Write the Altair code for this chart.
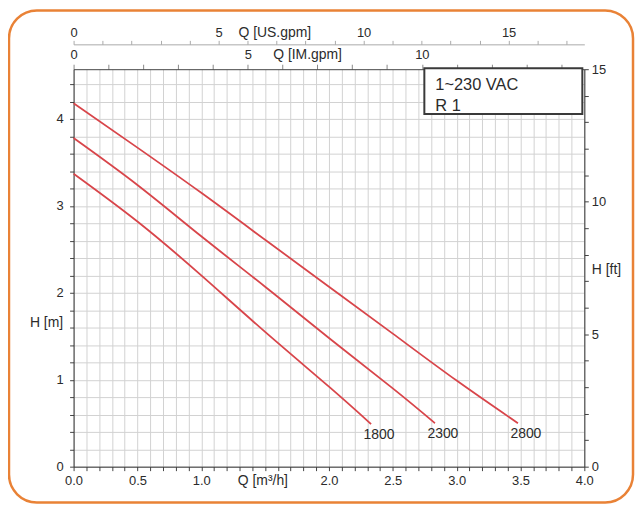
import altair as alt
import pandas as pd

# ---- data ----
speeds = ["1800", "2300", "2800"]
q_1800 = [0.0, 0.5, 1.0, 1.5, 2.0, 2.33]
h_1800 = [3.37, 2.82, 2.20, 1.55, 0.92, 0.49]
q_2300 = [0.0, 0.5, 1.0, 1.5, 2.0, 2.5, 2.83]
h_2300 = [3.78, 3.24, 2.65, 2.07, 1.48, 0.90, 0.50]
q_2800 = [0.0, 0.5, 1.0, 1.5, 2.0, 2.5, 3.0, 3.48]
h_2800 = [4.18, 3.67, 3.15, 2.61, 2.07, 1.53, 0.99, 0.50]
legend_lines = ["1~230 VAC", "R 1"]

# axis tick positions
q_ticks = [round(i * 0.1, 1) for i in range(41)]
h_ticks = [round(i * 0.2, 1) for i in range(23)]
ft_ticks = list(range(16))
im_ticks = list(range(15))
us_ticks = list(range(18))

M3H_PER_USGPM = 0.227125
M3H_PER_IMGPM = 0.272765
M_PER_FT = 0.3048
Q_MAX = 4.0
H_MAX = 15 * M_PER_FT

rows = []
for s, qs, hs in zip(speeds, [q_1800, q_2300, q_2800], [h_1800, h_2300, h_2800]):
    for q, h in zip(qs, hs):
        rows.append({"speed": s, "q": q, "h": h})
curves = pd.DataFrame(rows)
ends = pd.DataFrame([
    {"speed": s, "q": qs[-1], "h": hs[-1]}
    for s, qs, hs in zip(speeds, [q_1800, q_2300, q_2800], [h_1800, h_2300, h_2800])
])
one = pd.DataFrame({"a": [0]})

FONT = "Liberation Sans"
TXT = "#2b2b2b"
qs_ = alt.Scale(domain=[0, Q_MAX], nice=False, zero=True)
hs_ = alt.Scale(domain=[0, H_MAX], nice=False, zero=True)

axis_common = dict(labelFont=FONT, titleFont=FONT, labelColor=TXT, titleColor=TXT,
                   labelFontSize=13, titleFontSize=14, titleFontWeight="normal",
                   labelOverlap=False, labelFlush=False, domainWidth=1, tickWidth=1)

# orange outer frame
frame = alt.Chart(one).mark_rect(
    fill="white", fillOpacity=0, stroke="#e98236", strokeWidth=2.5, cornerRadius=28
).encode(x=alt.value(-65), x2=alt.value(563), y=alt.value(-59), y2=alt.value(436))

# main curves with bottom (m3/h) and left (m) axes
lines = alt.Chart(curves).mark_line(
    color="#d8454a", strokeWidth=1.8, interpolate="natural"
).encode(
    x=alt.X("q:Q", scale=qs_, axis=alt.Axis(
        orient="bottom", values=q_ticks, grid=True, gridColor="#d2d2d2", gridWidth=1,
        domainColor="#333", tickColor="#444", tickSize=4,
        labelExpr="(abs(datum.value*2 - round(datum.value*2)) < 0.001 && abs(datum.value-1.5) > 0.01) ? format(datum.value, '.1f') : ''",
        labelBaseline="alphabetic", labelPadding=13.5,
        title="Q [m³/h]", titleX=190, titleY=17.5, titleAlign="center",
        titleBaseline="alphabetic", **axis_common)),
    y=alt.Y("h:Q", scale=hs_, axis=alt.Axis(
        orient="left", values=h_ticks, grid=True, gridColor="#d2d2d2", gridWidth=1,
        domainColor="#333", tickColor="#444", tickSize=4,
        labelExpr="abs(datum.value - round(datum.value)) < 0.001 ? format(datum.value, 'd') : ''",
        labelPadding=6.5,
        title="H [m]", titleAngle=0, titleAlign="right", titleBaseline="middle",
        titleX=-11, titleY=255, **axis_common)),
    detail="speed:N",
)

labels = alt.Chart(ends).mark_text(
    font=FONT, fontSize=14, color=TXT, align="center", baseline="middle", dx=8, dy=11
).encode(
    x=alt.X("q:Q", scale=qs_, axis=None),
    y=alt.Y("h:Q", scale=hs_, axis=None),
    text="speed:N",
)

# right axis in feet
right_axis = alt.Chart(curves).transform_calculate(
    ft=f"datum.h / {M_PER_FT}"
).mark_point(opacity=0).encode(
    x=alt.X("q:Q", scale=qs_, axis=None),
    y=alt.Y("ft:Q", scale=alt.Scale(domain=[0, 15], nice=False), axis=alt.Axis(
        orient="right", values=ft_ticks, grid=False, domainColor="#333", tickColor="#444",
        tickSize=4, labelPadding=3,
        labelExpr="datum.value % 5 === 0 ? datum.label : ''",
        title="H [ft]", titleAngle=0, titleAlign="left", titleBaseline="middle",
        titleX=7, titleY=202, **axis_common)),
)

# top axis in imperial gpm
im_axis = alt.Chart(curves).transform_calculate(
    im=f"datum.q / {M3H_PER_IMGPM}"
).mark_point(opacity=0).encode(
    x=alt.X("im:Q", scale=alt.Scale(domain=[0, Q_MAX / M3H_PER_IMGPM], nice=False), axis=alt.Axis(
        orient="top", values=im_ticks, grid=False, domainColor="#444", tickColor="#888",
        tickSize=5, labelPadding=5.5, labelBaseline="alphabetic",
        labelExpr="datum.value % 5 === 0 ? datum.label : ''",
        title="Q [IM.gpm]", titleX=235, titleY=-10.5, titleAlign="center",
        titleBaseline="alphabetic", **axis_common)),
    y=alt.Y("h:Q", scale=hs_, axis=None),
)

# top axis in US gpm
us_axis = alt.Chart(curves).transform_calculate(
    us=f"datum.q / {M3H_PER_USGPM}"
).mark_point(opacity=0).encode(
    x=alt.X("us:Q", scale=alt.Scale(domain=[0, Q_MAX / M3H_PER_USGPM], nice=False), axis=alt.Axis(
        orient="top", offset=25, values=us_ticks, grid=False, domainColor="#aaaaaa",
        tickColor="#aaaaaa", tickSize=4, labelPadding=4, labelBaseline="alphabetic",
        labelExpr="datum.value % 5 === 0 ? datum.label : ''",
        title="Q [US.gpm]", titleX=202, titleY=-8, titleAlign="center",
        titleBaseline="alphabetic", **axis_common)),
    y=alt.Y("h:Q", scale=hs_, axis=None),
)

# legend box
box = alt.Chart(one).mark_rect(
    fill="white", stroke="#3a3a3a", strokeWidth=2
).encode(x=alt.value(353), x2=alt.value(512), y=alt.value(-1), y2=alt.value(45))

box_text = alt.Chart(one).mark_text(
    font=FONT, fontSize=16.5, color=TXT, align="left", baseline="alphabetic", lineHeight=21
).encode(x=alt.value(364), y=alt.value(21), text=alt.value(legend_lines))

chart = alt.layer(
    frame, lines, right_axis, im_axis, us_axis, box, box_text, labels
).resolve_scale(
    x="independent", y="independent"
).properties(
    width=514, height=400,
    padding={"left": 66, "top": 60, "right": 51, "bottom": 38},
    autosize=alt.AutoSizeParams(type="none"),
    background="white",
).configure_view(strokeWidth=0)

chart.save("out.html", embed_options={"renderer": "svg", "actions": False})
